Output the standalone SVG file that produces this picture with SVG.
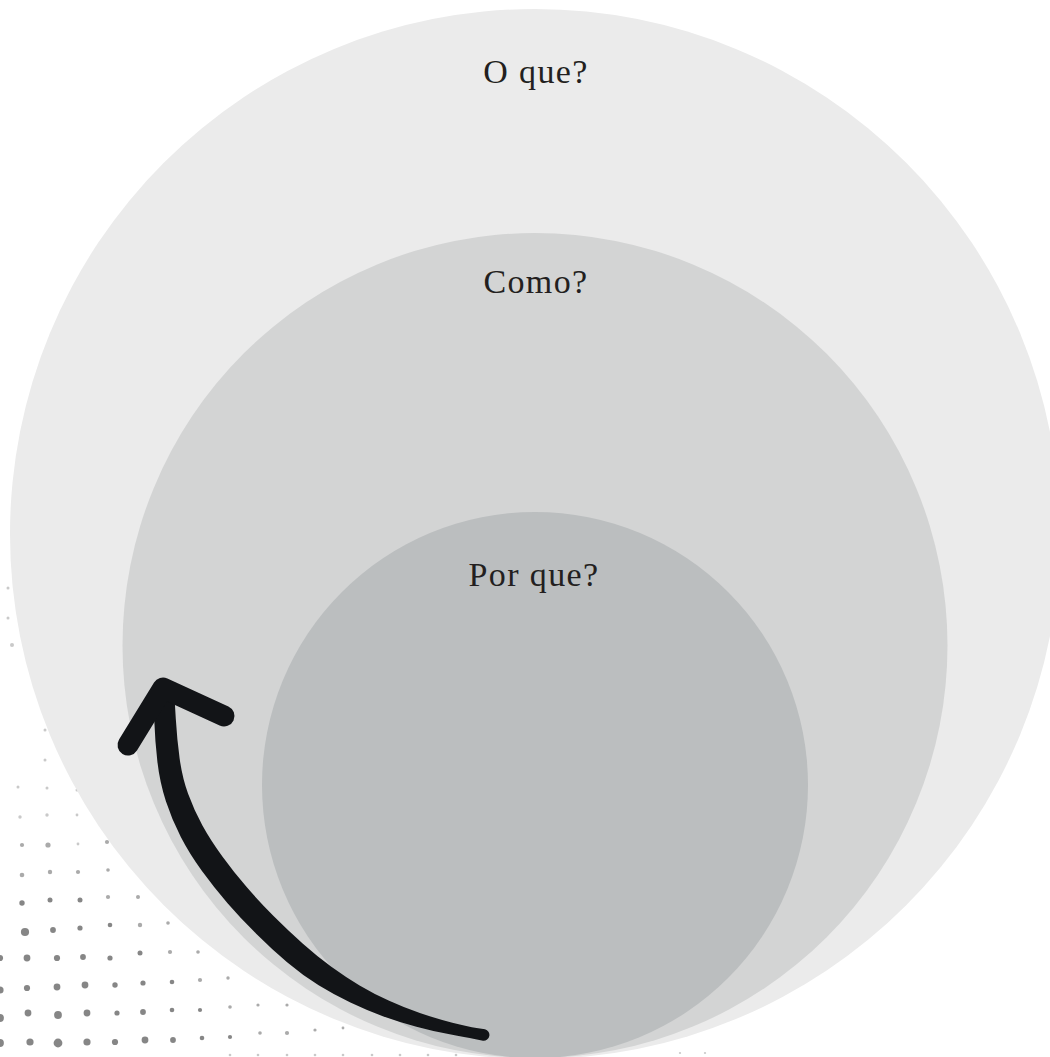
<svg xmlns="http://www.w3.org/2000/svg" width="1050" height="1057" viewBox="0 0 1050 1057">
<style>
.dt{fill:#727272}
.a{opacity:.85}.b{opacity:.6}.c{opacity:.38}
.lbl{font-family:"Liberation Serif","DejaVu Serif",serif;font-size:34px;letter-spacing:1.4px;fill:#231f20;text-anchor:middle}
.ink{fill:#121417}
</style>
<rect width="1050" height="1057" fill="#ffffff"/>
<g id="texture" class="dt">
<g class="c">
<circle cx="8" cy="588" r="1.5"/><circle cx="8" cy="618" r="1.5"/><circle cx="12" cy="645" r="2"/>
<circle cx="45" cy="730" r="1.5"/><circle cx="45" cy="760" r="1.5"/><circle cx="18" cy="787" r="1.5"/>
<circle cx="47" cy="788" r="1.5"/><circle cx="77" cy="790" r="1.5"/>
<circle cx="20" cy="817" r="1.7"/><circle cx="47" cy="815" r="1.7"/><circle cx="77" cy="815" r="1.4"/>
<circle cx="78" cy="844" r="1.4"/>
<circle cx="230" cy="1055" r="1.3"/><circle cx="258" cy="1055" r="1.3"/><circle cx="287" cy="1055" r="1.3"/>
<circle cx="315" cy="1055" r="1.3"/><circle cx="343" cy="1055" r="1.3"/><circle cx="372" cy="1055" r="1.3"/>
<circle cx="400" cy="1055" r="1.3"/><circle cx="428" cy="1055" r="1.3"/><circle cx="456" cy="1055" r="1.3"/>
<circle cx="680" cy="1053" r="1.1"/><circle cx="705" cy="1053" r="1.1"/>
</g>
<g class="b">
<circle cx="22" cy="845" r="2.1"/><circle cx="48" cy="845" r="2.6"/><circle cx="107" cy="842" r="2.1"/>
<circle cx="22" cy="875" r="2.3"/><circle cx="50" cy="872" r="2.2"/><circle cx="78" cy="872" r="2.1"/><circle cx="108" cy="870" r="1.8"/>
<circle cx="108" cy="897" r="2.1"/><circle cx="138" cy="897" r="2"/>
<circle cx="140" cy="925" r="2.2"/><circle cx="168" cy="923" r="1.8"/>
<circle cx="170" cy="952" r="2.1"/><circle cx="198" cy="952" r="1.8"/>
<circle cx="200" cy="980" r="2.1"/><circle cx="228" cy="978" r="1.7"/>
<circle cx="230" cy="1007" r="1.8"/><circle cx="258" cy="1005" r="1.6"/><circle cx="287" cy="1005" r="1.6"/>
<circle cx="260" cy="1033" r="1.8"/><circle cx="287" cy="1033" r="2.1"/><circle cx="315" cy="1030" r="1.6"/><circle cx="343" cy="1028" r="1.4"/>
</g>
<g class="a">
<circle cx="22" cy="903" r="2.7"/><circle cx="50" cy="900" r="2.5"/><circle cx="80" cy="900" r="2.5"/>
<circle cx="25" cy="932" r="4.1"/><circle cx="53" cy="930" r="2.9"/><circle cx="80" cy="928" r="2.6"/><circle cx="110" cy="925" r="2.3"/>
<circle cx="0" cy="958" r="3.1"/><circle cx="27" cy="958" r="3.4"/><circle cx="57" cy="958" r="3.1"/><circle cx="83" cy="957" r="2.9"/><circle cx="110" cy="958" r="2.6"/><circle cx="140" cy="953" r="2.5"/>
<circle cx="0" cy="990" r="3.6"/><circle cx="27" cy="988" r="3.1"/><circle cx="57" cy="987" r="3.4"/><circle cx="85" cy="985" r="3.4"/><circle cx="115" cy="985" r="2.7"/><circle cx="143" cy="983" r="2.6"/><circle cx="172" cy="982" r="2.3"/>
<circle cx="0" cy="1018" r="3.9"/><circle cx="28" cy="1013" r="3.4"/><circle cx="58" cy="1015" r="3.9"/><circle cx="87" cy="1013" r="3.4"/><circle cx="117" cy="1013" r="2.6"/><circle cx="143" cy="1012" r="2.9"/><circle cx="172" cy="1010" r="2.3"/><circle cx="200" cy="1010" r="2.1"/>
<circle cx="0" cy="1043" r="3.9"/><circle cx="30" cy="1042" r="3.6"/><circle cx="58" cy="1043" r="4.4"/><circle cx="87" cy="1042" r="3.6"/><circle cx="115" cy="1042" r="3.1"/><circle cx="145" cy="1040" r="3.4"/><circle cx="173" cy="1040" r="2.9"/><circle cx="202" cy="1038" r="2.3"/><circle cx="230" cy="1037" r="2.1"/>
</g>
</g>
<g id="node-what">
<circle cx="535" cy="534" r="525" fill="#ebebeb"/>
<text class="lbl" x="536" y="83">O que?</text>
</g>
<g id="node-how">
<circle cx="535" cy="645.5" r="412.5" fill="#d3d4d4"/>
<text class="lbl" x="536" y="293">Como?</text>
</g>
<g id="node-why">
<circle cx="535" cy="785" r="273" fill="#bbbebf"/>
<text class="lbl" x="534" y="586">Por que?</text>
</g>
<g id="connectors">
<path class="ink" d="M153.5,698.5 L154.25,719.7 Q155,740.9 157.4,761.7 Q159.8,782.5 165.9,801.15 Q172,819.8 180.7,836.75 Q189.4,853.7 201.8,870.75 Q214.2,887.8 227.55,903.15 Q240.9,918.5 256.2,933.8 Q271.5,949.1 287.1,962.3 Q302.7,975.5 318.65,985.25 Q334.6,995 350.4,1002.6 Q366.2,1010.2 382.85,1016.15 Q399.5,1022.1 416.45,1026.7 Q433.4,1031.3 449.65,1034.35 Q465.9,1037.4 474.45,1039.05 L483,1040.7 A5.8 5.8 0 0 0 485,1029.3 L476.55,1027.95 Q468.1,1026.6 452.35,1022.65 Q436.6,1018.7 420.55,1013.3 Q404.5,1007.9 389.15,1000.85 Q373.8,993.8 359.6,985.4 Q345.4,977 331.35,966.75 Q317.3,956.5 302.9,943.7 Q288.5,930.9 273.8,916.2 Q259.1,901.5 246.45,886.85 Q233.8,872.2 222.2,856.25 Q210.6,840.3 202.3,825.25 Q194,810.2 188.1,793.85 Q182.2,777.5 179.6,758.3 Q177,739.1 175.75,718.3 L174.5,697.5 Z"/>
<polyline points="128,745 163,688 224,716" fill="none" stroke="#121417" stroke-width="21" stroke-linecap="round" stroke-linejoin="round"/>
</g>
</svg>
